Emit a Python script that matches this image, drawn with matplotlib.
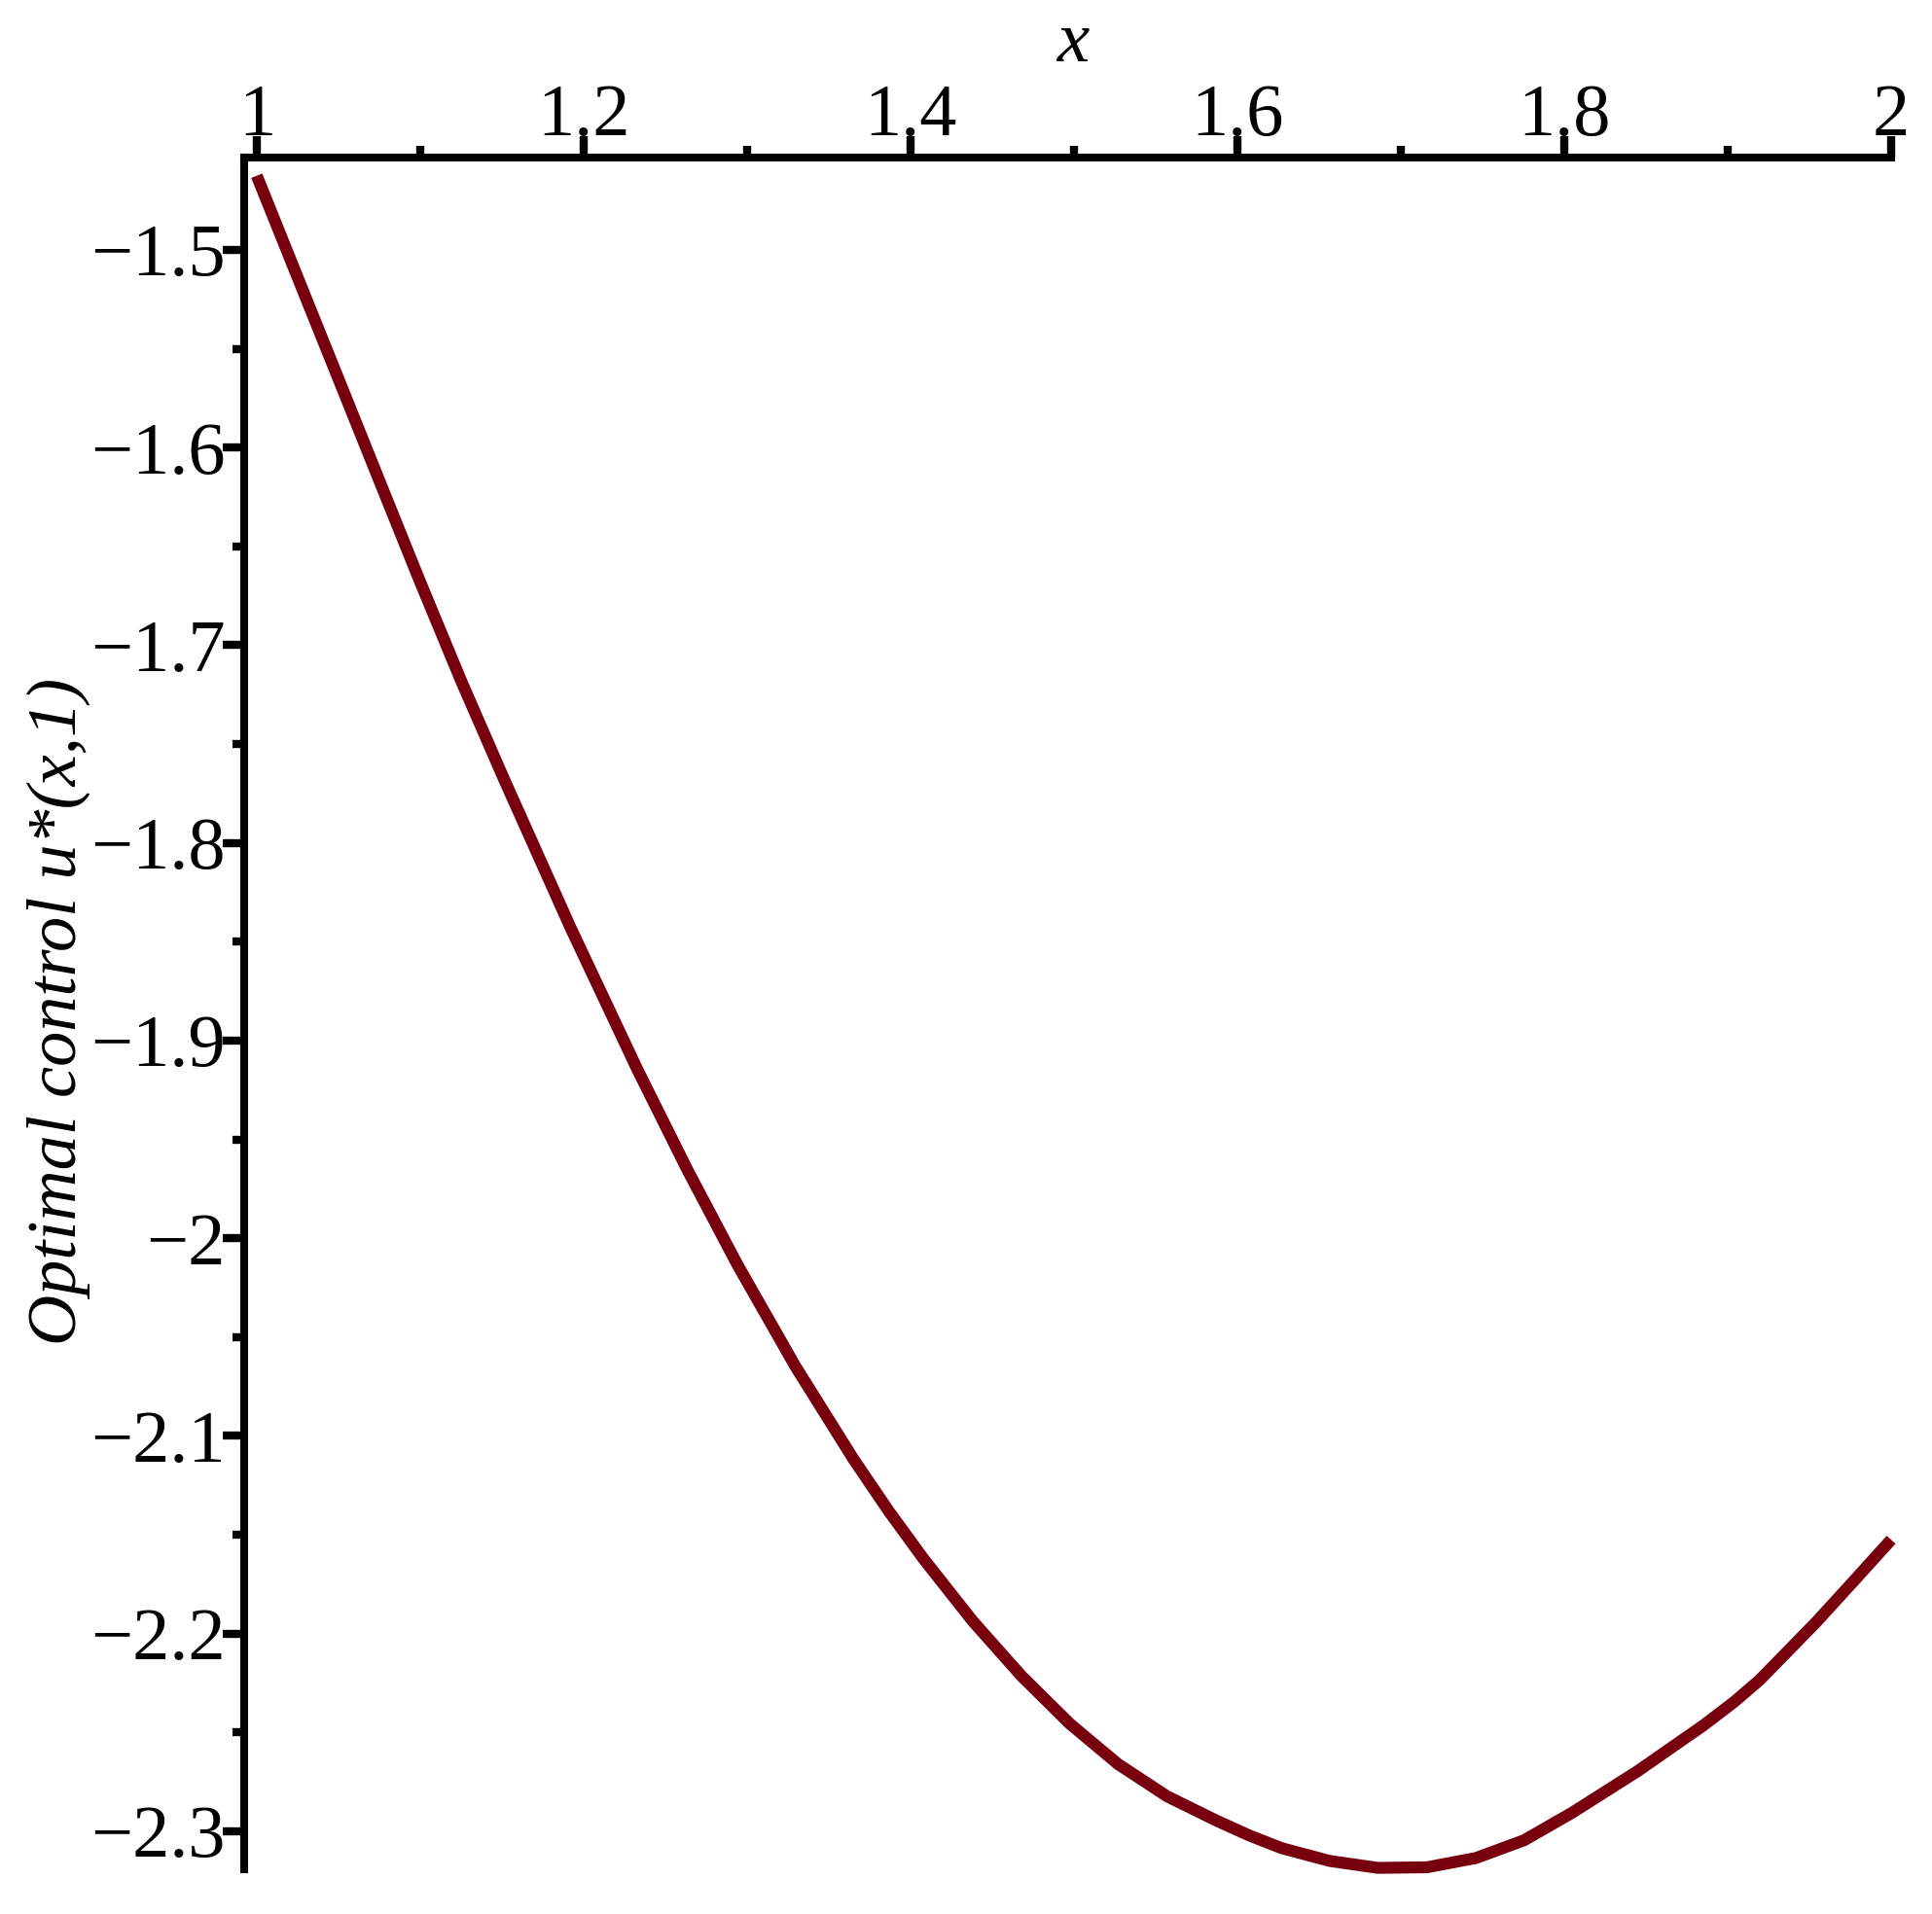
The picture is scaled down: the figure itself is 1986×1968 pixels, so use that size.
import matplotlib
matplotlib.use("Agg")
from matplotlib import pyplot as plt

x_vals = [1.000, 1.027, 1.054, 1.0765, 1.099, 1.125, 1.151, 1.192, 1.233,
          1.2635, 1.294, 1.3295, 1.365, 1.3865, 1.408, 1.438, 1.468, 1.4975,
          1.527, 1.557, 1.587, 1.607, 1.627, 1.6565, 1.686, 1.716, 1.746,
          1.7755, 1.805, 1.845, 1.885, 1.904, 1.9195, 1.954, 1.977, 2.000]
u_vals = [-1.4625, -1.5180, -1.5735, -1.6198, -1.6660, -1.7179, -1.7672,
          -1.8429, -1.9148, -1.9654, -2.0132, -2.0647, -2.1116, -2.1378,
          -2.1622, -2.1936, -2.2215, -2.2456, -2.2660, -2.2823, -2.2945,
          -2.3020, -2.3085, -2.3150, -2.3185, -2.3182, -2.3135, -2.3045,
          -2.2905, -2.2695, -2.2465, -2.2345, -2.2235, -2.1943, -2.1735,
          -2.1525]

x_major = [1.0, 1.2, 1.4, 1.6, 1.8, 2.0]
x_major_labels = ['1', '1.2', '1.4', '1.6', '1.8', '2']
x_minor = [1.1, 1.3, 1.5, 1.7, 1.9]

y_major = [-1.5, -1.6, -1.7, -1.8, -1.9, -2.0, -2.1, -2.2, -2.3]
y_major_labels = ['\u22121.5', '\u22121.6', '\u22121.7', '\u22121.8', '\u22121.9',
                  '\u22122', '\u22122.1', '\u22122.2', '\u22122.3']
y_minor = [-1.55, -1.65, -1.75, -1.85, -1.95, -2.05, -2.15, -2.25]

plt.rcParams['font.family'] = ['Liberation Serif', 'DejaVu Serif']

fig = plt.figure(figsize=(19.86, 19.68), dpi=100)
ax = fig.add_axes([0.12638, 0.023374, 0.85247, 0.89431])

ax.plot(x_vals, u_vals, color='#78000E', linewidth=8.8,
        solid_capstyle='butt', solid_joinstyle='round', clip_on=False)

ax.set_xlim(0.9923, 2.0)
ax.set_ylim(-2.3192, -1.4533)

# Maple-like frame: only the top and left axis lines
for side in ['bottom', 'right']:
    ax.spines[side].set_visible(False)
for side in ['top', 'left']:
    ax.spines[side].set_linewidth(5.8)
    ax.spines[side].set_capstyle('projecting')

ax.xaxis.tick_top()
ax.yaxis.tick_left()
ax.set_xticks(x_major, labels=x_major_labels)
ax.set_xticks(x_minor, minor=True)
ax.set_yticks(y_major, labels=y_major_labels)
ax.set_yticks(y_minor, minor=True)

ax.tick_params(axis='both', which='major', direction='out', length=16,
               width=6, labelsize=55)
ax.tick_params(axis='both', which='minor', direction='out', length=9, width=6)
ax.tick_params(axis='x', which='major', pad=-11)
ax.tick_params(axis='y', which='major', pad=-2)

fig.text(1104 / 1986, 1 - 45 / 1968, 'x', style='italic', fontsize=54,
         ha='center', va='center')
fig.text(60 / 1986, 1 - 1040 / 1968, 'Optimal control u*(x,1)', style='italic',
         fontsize=52, rotation=90, ha='center', va='center')

fig.savefig('out.png', dpi=100)
